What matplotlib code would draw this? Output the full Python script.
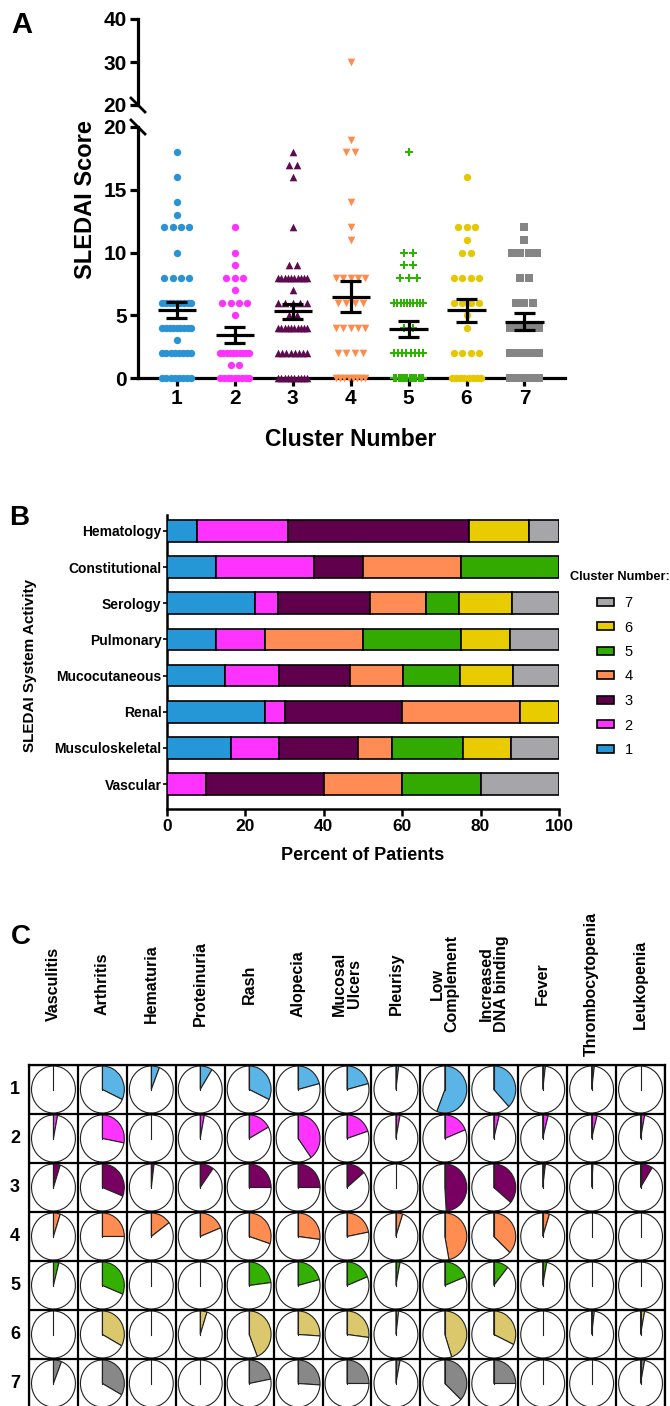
import numpy as np
import matplotlib
matplotlib.use("Agg")
import matplotlib.pyplot as plt
from matplotlib import transforms
from matplotlib.patches import Patch

plt.rcParams['font.family'] = ['Liberation Sans', 'DejaVu Sans']
plt.rcParams['font.weight'] = 'bold'
plt.rcParams['axes.labelweight'] = 'bold'

# ---------------- Panel A data (SLEDAI score per cluster: value, count) ----------------
clusters = [1, 2, 3, 4, 5, 6, 7]
c1_vals = [18, 16, 14, 13, 12, 10, 8, 6, 4, 3, 2, 0]
c1_counts = [1, 1, 1, 1, 4, 1, 4, 9, 9, 1, 8, 8]
c2_vals = [12, 10, 9, 8, 7, 6, 5, 2, 1, 0]
c2_counts = [1, 1, 1, 3, 1, 4, 1, 10, 2, 9]
c3_vals = [18, 17, 16, 12, 9, 8, 7, 6, 5, 4, 2, 0]
c3_counts = [1, 2, 1, 1, 2, 10, 1, 5, 2, 10, 8, 10]
c4_vals = [30, 19, 18, 14, 12, 11, 8, 6, 4, 2, 0]
c4_counts = [1, 1, 2, 1, 1, 1, 5, 4, 5, 4, 8]
c5_vals = [18, 10, 9, 8, 6, 4, 2, 0]
c5_counts = [1, 2, 2, 3, 10, 2, 8, 14]
c6_vals = [16, 12, 11, 10, 8, 6, 5, 4, 2, 0]
c6_counts = [1, 3, 1, 2, 4, 4, 1, 1, 4, 8]
c7_vals = [12, 11, 10, 8, 6, 4, 2, 0]
c7_counts = [1, 1, 4, 2, 3, 5, 9, 5]
a_yticks_low = [0, 5, 10, 15, 20]
a_yticks_high = [20, 30, 40]

# ---------------- Panel B data (percent of patients) ----------------
systems = ['Hematology', 'Constitutional', 'Serology', 'Pulmonary',
           'Mucocutaneous', 'Renal', 'Musculoskeletal', 'Vascular']
pct_c1 = [7.7, 12.5, 22.4, 12.5, 14.9, 25.0, 16.4, 0.0]
pct_c2 = [23.1, 25.0, 5.9, 12.5, 13.6, 5.0, 12.2, 10.0]
pct_c3 = [46.2, 12.5, 23.6, 0.0, 18.1, 30.0, 20.2, 30.0]
pct_c4 = [0.0, 25.0, 14.1, 25.0, 13.6, 30.0, 8.7, 20.0]
pct_c5 = [0.0, 25.0, 8.4, 25.0, 14.5, 0.0, 18.0, 20.0]
pct_c6 = [15.4, 0.0, 13.5, 12.5, 13.6, 10.0, 12.2, 0.0]
pct_c7 = [7.7, 0.0, 12.1, 12.5, 11.7, 0.0, 12.3, 20.0]
b_xticks = [0, 20, 40, 60, 80, 100]

# ---------------- Panel C data (fraction of cluster with manifestation) ----------------
manifestations = ['Vasculitis', 'Arthritis', 'Hematuria', 'Proteinuria', 'Rash',
                  'Alopecia', 'Mucosal\nUlcers', 'Pleurisy', 'Low\nComplement',
                  'Increased\nDNA binding', 'Fever', 'Thrombocytopenia', 'Leukopenia']
frac_c1 = [0.00, 0.32, 0.06, 0.09, 0.32, 0.21, 0.21, 0.02, 0.56, 0.38, 0.02, 0.02, 0.00]
frac_c2 = [0.03, 0.28, 0.00, 0.03, 0.17, 0.40, 0.20, 0.03, 0.19, 0.04, 0.04, 0.04, 0.03]
frac_c3 = [0.05, 0.31, 0.02, 0.10, 0.25, 0.25, 0.14, 0.00, 0.49, 0.36, 0.02, 0.01, 0.09]
frac_c4 = [0.05, 0.25, 0.15, 0.19, 0.30, 0.27, 0.22, 0.05, 0.47, 0.37, 0.05, 0.00, 0.00]
frac_c5 = [0.04, 0.31, 0.00, 0.00, 0.23, 0.21, 0.19, 0.03, 0.19, 0.11, 0.03, 0.00, 0.00]
frac_c6 = [0.00, 0.33, 0.00, 0.05, 0.44, 0.26, 0.27, 0.02, 0.45, 0.32, 0.00, 0.02, 0.03]
frac_c7 = [0.06, 0.33, 0.00, 0.00, 0.22, 0.26, 0.25, 0.03, 0.37, 0.25, 0.00, 0.00, 0.03]

# ---------------- styles ----------------
a_colors = ['#2a93d5', '#ff33ff', '#5e0a4e', '#ff8c4a', '#2db400', '#e6c800', '#858585']
a_markers = ['o', 'o', '^', 'v', 'P', 'o', 's']
a_sizes = [28, 28, 30, 30, 34, 28, 26]
b_colors = ['#2596d6', '#ff33ff', '#60004c', '#ff8c55', '#33aa00', '#e8cc00', '#a6a6aa']
c_colors = ['#5ab4e6', '#ff33ff', '#780060', '#ff8c50', '#33b000', '#dcc86c', '#888888']

W, H = 670, 1406
fig = plt.figure(figsize=(W / 100, H / 100), dpi=100)


def fx(px):
    return px / W


def fy(py):
    return 1 - py / H


# =============================== Panel A ===============================
axA_lo = fig.add_axes([fx(138), fy(378), (565 - 138) / W, (378 - 127) / H])
axA_hi = fig.add_axes([fx(138), fy(105), (565 - 138) / W, (105 - 19) / H])

a_data = [(c1_vals, c1_counts), (c2_vals, c2_counts), (c3_vals, c3_counts),
          (c4_vals, c4_counts), (c5_vals, c5_counts), (c6_vals, c6_counts),
          (c7_vals, c7_counts)]
for k, (vals, cnts) in enumerate(a_data):
    xc = clusters[k]
    xs, ys = [], []
    for v, n in zip(vals, cnts):
        if n == 1:
            offs = np.array([0.0])
        else:
            sp = min(0.143, 0.50 / (n - 1))
            offs = (np.arange(n) - (n - 1) / 2) * sp
        xs.extend(xc + offs)
        ys.extend([v] * n)
    xs = np.array(xs)
    ys = np.array(ys, dtype=float)
    lo = ys <= 20
    kw = dict(s=a_sizes[k], marker=a_markers[k], color=a_colors[k],
              linewidths=0, clip_on=False, zorder=3)
    axA_lo.scatter(xs[lo], ys[lo], **kw)
    if (~lo).any():
        axA_hi.scatter(xs[~lo], ys[~lo], **kw)
    m = ys.mean()
    sem = ys.std(ddof=1) / np.sqrt(len(ys))
    lk = dict(color='black', lw=2.3, zorder=6)
    axA_lo.hlines(m, xc - 0.33, xc + 0.33, **lk)
    axA_lo.vlines(xc, m - sem, m + sem, **lk)
    axA_lo.hlines([m - sem, m + sem], xc - 0.18, xc + 0.18, **lk)

for ax in (axA_lo, axA_hi):
    ax.set_xlim(0.33, 7.7)
    ax.spines['top'].set_visible(False)
    ax.spines['right'].set_visible(False)
    ax.spines['left'].set_linewidth(2.3)
    ax.spines['bottom'].set_linewidth(2.3)
    ax.tick_params(width=2.3, length=6, labelsize=15, pad=2)
    ax.patch.set_alpha(0)
axA_lo.set_ylim(0, 20)
axA_lo.set_yticks(a_yticks_low)
axA_lo.set_xticks(clusters)
axA_lo.set_xticklabels([str(c) for c in clusters])
axA_hi.set_ylim(20, 40)
axA_hi.set_yticks(a_yticks_high)
axA_hi.set_xticks([])
axA_hi.spines['bottom'].set_visible(False)

# axis break marks
dxb = 7 / 427
axA_hi.plot([-dxb, dxb], [7 / 86, -7 / 86], transform=axA_hi.transAxes,
            color='black', lw=2, clip_on=False)
axA_lo.plot([-dxb, dxb], [1 + 7 / 251, 1 - 7 / 251], transform=axA_lo.transAxes,
            color='black', lw=2, clip_on=False)

fig.text(fx(85), fy(200), 'SLEDAI Score', rotation=90, ha='center', va='center',
         fontsize=17, fontweight='bold')
fig.text(fx(351), fy(440), 'Cluster Number', ha='center', va='center',
         fontsize=16.5, fontweight='bold')
fig.text(fx(22), fy(25), 'A', ha='center', va='center', fontsize=21, fontweight='bold')

# =============================== Panel B ===============================
axB = fig.add_axes([fx(167), fy(809), (559 - 167) / W, (809 - 515) / H])
b_pcts = [pct_c1, pct_c2, pct_c3, pct_c4, pct_c5, pct_c6, pct_c7]
ypos = np.arange(len(systems))
left = np.zeros(len(systems))
for k, pct in enumerate(b_pcts):
    axB.barh(ypos, pct, left=left, height=0.6, color=b_colors[k],
             edgecolor='black', linewidth=1.2, zorder=3)
    left += np.array(pct)
axB.set_ylim(7.69, -0.44)
axB.set_xlim(0, 100)
axB.set_yticks(ypos)
axB.set_yticklabels(systems, fontsize=10, fontweight='bold')
axB.set_xticks(b_xticks)
axB.set_xticklabels([str(t) for t in b_xticks], fontsize=12.5, fontweight='bold')
axB.spines['top'].set_visible(False)
axB.spines['right'].set_visible(False)
axB.spines['left'].set_linewidth(1.8)
axB.spines['bottom'].set_linewidth(1.8)
axB.tick_params(axis='x', width=1.8, length=5, pad=2)
axB.tick_params(axis='y', width=1.2, length=3, pad=1)
fig.text(fx(363), fy(855), 'Percent of Patients', ha='center', va='center',
         fontsize=13, fontweight='bold')
fig.text(fx(30), fy(665), 'SLEDAI System Activity', rotation=90, ha='center',
         va='center', fontsize=11, fontweight='bold')
fig.text(fx(19), fy(518), 'B', ha='center', va='center', fontsize=20, fontweight='bold')

handles = [Patch(facecolor=b_colors[k], edgecolor='black', linewidth=1.2)
           for k in range(6, -1, -1)]
labels = [str(clusters[k]) for k in range(6, -1, -1)]
fig.legend(handles, labels, loc='upper left', bbox_to_anchor=(fx(597), fy(596)),
           frameon=False, borderpad=0, borderaxespad=0, handlelength=1.15,
           handleheight=0.5, handletextpad=0.75, labelspacing=0.72,
           prop={'size': 10.5, 'weight': 'normal'})
fig.text(fx(570), fy(577), 'Cluster Number:', ha='left', va='center',
         fontsize=9.2, fontweight='bold')

# =============================== Panel C ===============================
cw = 1.07
nrow, ncol = 7, len(manifestations)
axC = fig.add_axes([fx(29), fy(1408), (665 - 29) / W, (1408 - 1065) / H])
c_fracs = [frac_c1, frac_c2, frac_c3, frac_c4, frac_c5, frac_c6, frac_c7]
r = 0.48
for i, fr in enumerate(c_fracs):
    yc = nrow - i - 0.5
    for j, f in enumerate(fr):
        xc = cw * (j + 0.5)
        axC.pie([f, 1 - f], colors=[c_colors[i], 'white'], startangle=90,
                counterclock=False, radius=r, center=(xc, yc), frame=True,
                wedgeprops=dict(edgecolor='#222222', linewidth=0.8))
        axC.plot([xc, xc], [yc, yc + r], color='#222222', lw=0.8, zorder=5)
axC.set_aspect('auto')
axC.set_xlim(0, cw * ncol)
axC.set_ylim(0, nrow)
axC.set_xticks([])
axC.set_yticks([])
for k in range(ncol + 1):
    axC.axvline(cw * k, color='black', lw=1.6, zorder=6)
for k in range(nrow + 1):
    axC.axhline(k, color='black', lw=1.6, zorder=6)
for sp in axC.spines.values():
    sp.set_linewidth(1.6)

tr_cols = transforms.blended_transform_factory(axC.transData, fig.transFigure)
for j, lab in enumerate(manifestations):
    axC.text(cw * (j + 0.5), fy(984), lab, transform=tr_cols, rotation=90,
             ha='center', va='center', fontsize=11.5, fontweight='bold',
             linespacing=1.0, multialignment='center')
tr_rows = transforms.blended_transform_factory(fig.transFigure, axC.transData)
for i in range(nrow):
    axC.text(fx(15), nrow - i - 0.5, str(clusters[i]), transform=tr_rows,
             ha='center', va='center', fontsize=13, fontweight='bold')
fig.text(fx(21), fy(937), 'C', ha='center', va='center', fontsize=20, fontweight='bold')

fig.savefig('out.png', dpi=100)
